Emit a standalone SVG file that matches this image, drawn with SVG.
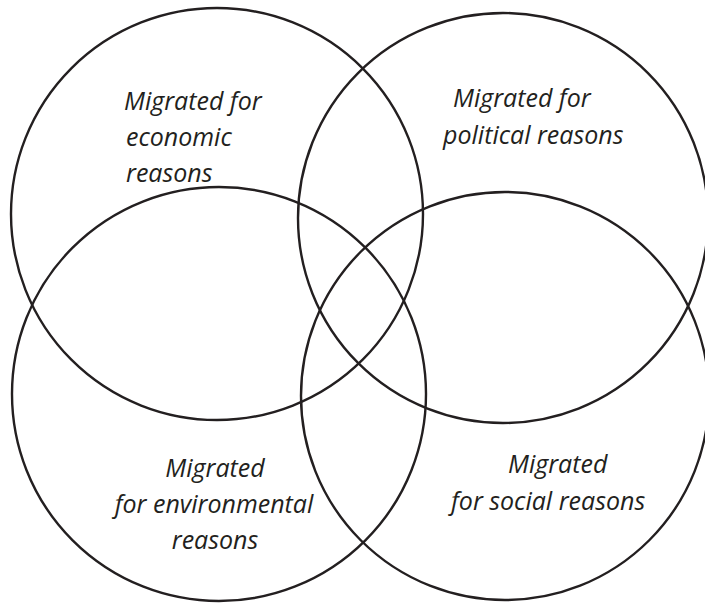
<svg xmlns="http://www.w3.org/2000/svg" width="705" height="603" viewBox="0 0 705 603">
<style>
.c{fill:none;stroke:#231f20;stroke-width:2.4}
.t{font-family:"Open Sans","Liberation Sans",sans-serif;font-style:italic;font-size:25px;fill:#231f20}
.m{text-anchor:middle}
</style>
<rect width="705" height="603" fill="#fff"/>
<g id="economic"><circle class="c" cx="217" cy="214" r="206"/>
<text class="t"><tspan x="124" y="110">Migrated for</tspan><tspan x="126" y="146">economic</tspan><tspan x="126" y="182">reasons</tspan></text></g>
<g id="political"><circle class="c" cx="503" cy="218" r="205"/>
<text class="t"><tspan x="453" y="107">Migrated for</tspan><tspan x="443" y="144">political reasons</tspan></text></g>
<g id="environmental"><circle class="c" cx="219" cy="394" r="207"/>
<text class="t m"><tspan x="215" y="477">Migrated</tspan><tspan x="214" y="513">for environmental</tspan><tspan x="215" y="549">reasons</tspan></text></g>
<g id="social"><circle class="c" cx="505" cy="396" r="204"/>
<text class="t"><tspan x="508" y="473">Migrated</tspan><tspan x="451" y="510">for social reasons</tspan></text></g>
<g id="connectors"></g>
</svg>
